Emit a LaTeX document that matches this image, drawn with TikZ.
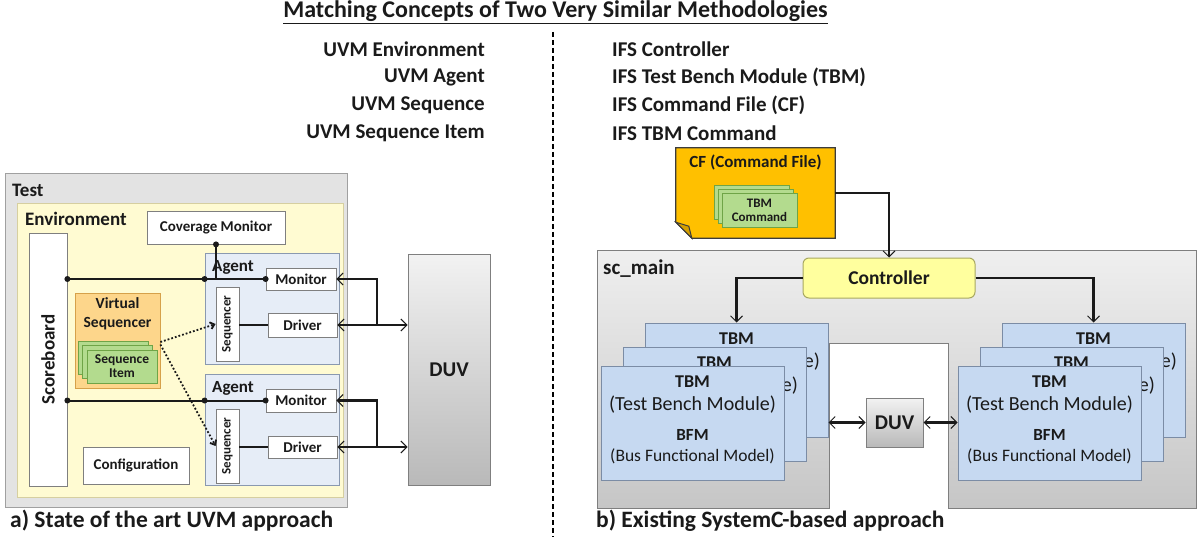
\documentclass[tikz,border=0pt]{standalone}
\usepackage{fontspec}
\setmainfont{Carlito}
\usetikzlibrary{arrows.meta,positioning,calc}
\definecolor{ink}{HTML}{1A1A1A}
\definecolor{testfill}{HTML}{E3E3E3}
\definecolor{testline}{HTML}{A0A0A0}
\definecolor{envfill}{HTML}{FFFBD2}
\definecolor{envline}{HTML}{D6CFA0}
\definecolor{agentfill}{HTML}{E6EDF7}
\definecolor{agentline}{HTML}{8A99B0}
\definecolor{vseqfill}{HTML}{FDD68B}
\definecolor{vseqline}{HTML}{D6A14A}
\definecolor{itemfill}{HTML}{B3DB8E}
\definecolor{itemline}{HTML}{6FA447}
\definecolor{cffill}{HTML}{FFC000}
\definecolor{cffold}{HTML}{D49F00}
\definecolor{ctrlfill}{HTML}{FFFF9E}
\definecolor{ctrlline}{HTML}{A8A860}
\definecolor{tbmfill}{HTML}{C6D9F1}
\definecolor{tbmline}{HTML}{7B8CA5}
\definecolor{duvtop}{HTML}{F2F2F2}
\definecolor{duvbot}{HTML}{B9B9B9}
\definecolor{scmtop}{HTML}{EFEFEF}
\definecolor{scmbot}{HTML}{C6C6C6}
\definecolor{boxline}{HTML}{7F7F7F}
\tikzset{
  >={Straight Barb[length=6pt,width=12pt,line width=1pt]},
  every node/.style={font=\bfseries,text=ink,inner sep=0pt},
  frame/.style={draw=testline,fill=testfill,line width=1pt},
  envbox/.style={draw=envline,fill=envfill,line width=0.8pt},
  wbox/.style={draw=boxline,fill=white,line width=0.8pt,align=center,font=\bfseries\fontsize{15}{17}\selectfont},
  agentbox/.style={draw=agentline,fill=agentfill,line width=0.8pt},
  vseqbox/.style={draw=vseqline,fill=vseqfill,line width=0.8pt,minimum width=85pt,minimum height=95pt},
  itembox/.style={draw=itemline,fill=itemfill,line width=0.8pt,align=center,minimum width=70pt,minimum height=33pt,font=\bfseries\fontsize{13.5}{14}\selectfont},
  cmdbox/.style={itembox,minimum width=75pt,minimum height=34pt,font=\bfseries\fontsize{13}{14}\selectfont},
  ctrlbox/.style={draw=ctrlline,fill=ctrlfill,line width=1pt,rounded corners=6pt,minimum width=172pt,minimum height=40pt,font=\bfseries\fontsize{19.5}{22}\selectfont},
  tbmbox/.style={draw=tbmline,fill=tbmfill,line width=1pt,minimum width=183pt,minimum height=114pt},
  tbmhead/.style={font=\bfseries\fontsize{18}{20}\selectfont},
  tbmsub/.style={font=\mdseries\fontsize{20}{22}\selectfont},
  duvbox/.style={draw=boxline,line width=1pt,top color=duvtop,bottom color=duvbot,font=\bfseries\fontsize{21}{24}\selectfont},
  wire/.style={line width=2pt,draw=ink},
  thinwire/.style={line width=1.4pt,draw=ink},
  arrow/.style={->,line width=2.4pt,draw=ink},
  dual/.style={<->,line width=2.4pt,draw=ink},
  hint/.style={->,dotted,line width=1.8pt,draw=ink,>={Straight Barb[length=4pt,width=7pt]}},
  dot/.style={circle,fill=ink,minimum size=6pt,inner sep=0pt},
  heading/.style={font=\bfseries\fontsize{21}{25}\selectfont},
  tag/.style={anchor=west,font=\bfseries\fontsize{19}{22}\selectfont},
  caption/.style={anchor=west,font=\bfseries\fontsize{23.5}{26}\selectfont},
  divider/.style={dashed,line width=1.8pt,dash pattern=on 5pt off 3pt},
}

\begin{document}
\begin{tikzpicture}[x=1pt,y=-1pt]
\useasboundingbox (0,0) rectangle (1198,537);

% heading and matching concepts
\node[heading,font=\bfseries\fontsize{24}{28}\selectfont] (title) at (555.5,12) {\underline{Matching Concepts of Two Very Similar Methodologies}};
\coordinate (divtop) at (553,32);
\coordinate (divbot) at (553,537);
\draw[divider] (divtop) -- (divbot);
\node[heading,anchor=east] (uvm1) at (485,49) {UVM Environment};
\node[heading,anchor=east] (uvm2) at (485,77) {UVM Agent};
\node[heading,anchor=east] (uvm3) at (485,105) {UVM Sequence};
\node[heading,anchor=east] (uvm4) at (485,133) {UVM Sequence Item};
\node[heading,anchor=west] (ifs1) at (612,49) {IFS Controller};
\node[heading,anchor=west] (ifs2) at (612,77) {IFS Test Bench Module (TBM)};
\node[heading,anchor=west] (ifs3) at (612,105) {IFS Command File (CF)};
\node[heading,anchor=west] (ifs4) at (612,133) {IFS TBM Command};

% a) UVM
\node[frame,minimum width=342pt,minimum height=333pt] (test) at (176,340.5) {};
\node[tag] at (12,190) {Test};
\node[envbox,minimum width=326pt,minimum height=294pt] (env) at (180,350) {};
\node[tag] at (25,219) {Environment};
\node[wbox,minimum width=138pt,minimum height=33pt] (cov) at (216,227.5) {Coverage Monitor};
\node[wbox,minimum width=38pt,minimum height=253pt] (score) at (48,359.5) {};
\node[rotate=90,font=\bfseries\fontsize{19}{22}\selectfont] at (score) {Scoreboard};

\node[agentbox,minimum width=134pt,minimum height=111pt] (agent1) at (272,308.5) {};
\node[tag,font=\bfseries\fontsize{17}{20}\selectfont] at (212,267) {Agent};
\node[wbox,minimum width=70pt,minimum height=22pt] (mon1) at (301,279) {Monitor};
\node[wbox,minimum width=69pt,minimum height=24pt] (drv1) at (302.5,325) {Driver};
\node[wbox,minimum width=23pt,minimum height=74pt] (seq1) at (227.5,324) {};
\node[rotate=90,font=\bfseries\fontsize{13}{15}\selectfont] at (seq1) {Sequencer};

\node[agentbox,minimum width=134pt,minimum height=111pt] (agent2) at (272,429.5) {};
\node[tag,font=\bfseries\fontsize{17}{20}\selectfont] at (212,388) {Agent};
\node[wbox,minimum width=70pt,minimum height=23pt] (mon2) at (301,400.5) {Monitor};
\node[wbox,minimum width=69pt,minimum height=22pt] (drv2) at (302.5,447) {Driver};
\node[wbox,minimum width=23pt,minimum height=74pt] (seq2) at (227.5,446) {};
\node[rotate=90,font=\bfseries\fontsize{13}{15}\selectfont] at (seq2) {Sequencer};

\node[vseqbox] (vseq) at (117.5,340.5) {};
\node[align=center,font=\bfseries\fontsize{15.5}{19}\selectfont] at (117.5,314) {Virtual\\Sequencer};
\node[itembox] (item3) at (113,357.5) {};
\node[itembox] (item2) at (117.5,362) {};
\node[itembox] (item1) at (122,366.5) {Sequence\\Item};
\node[wbox,minimum width=106pt,minimum height=37pt] (conf) at (136,465.5) {Configuration};

\node[duvbox,minimum width=82pt,minimum height=231pt] (duvL) at (449,369.5) {DUV};

\draw[wire] (cov.south) -- (cov.south |- mon1.west);
\draw[wire] (score.east |- mon1.west) -- (mon1.west);
\draw[wire] (score.east |- mon2.west) -- (mon2.west);
\foreach \n in {1,2} {
  \node[dot] at (score.east |- mon\n.west) {};
  \node[dot] at (agent\n.west |- mon\n.west) {};
  \node[dot] at (mon\n.west) {};
  \draw[thinwire] (seq\n.east |- drv\n.west) -- (drv\n.west);
}
\node[dot] at (cov.south) {};

\coordinate (jn1) at (377,325);
\coordinate (jn2) at (377,447);
\draw[arrow] (jn1) |- (mon1.east);
\draw[dual] (drv1.east) -- (duvL.west |- drv1.east);
\draw[arrow] (jn2) |- (mon2.east);
\draw[dual] (drv2.east) -- (duvL.west |- drv2.east);

\draw[hint] ([yshift=-1.5pt]vseq.east) -- (seq1.west);
\draw[hint] ([yshift=-4pt]vseq.east) -- (seq2.west);

\node[caption] (capA) at (10,521) {a) State of the art UVM approach};

% b) SystemC
\node[minimum width=159pt,minimum height=90pt] (cf) at (755.5,193) {};
\draw[fill=cffill,draw=ink!85,line width=1.2pt] (cf.north west) -- (cf.north east) -- (cf.south east)
  -- ([xshift=16pt]cf.south west) -- ([yshift=16pt]cf.south west) -- cycle;
\draw[fill=cffold,draw=ink!85,line width=1pt] ([yshift=16pt]cf.south west) -- ([xshift=16pt]cf.south west)
  -- ([xshift=13pt,yshift=12pt]cf.south west) -- cycle;
\node[font=\bfseries\fontsize{17}{20}\selectfont] at (755.5,162) {CF (Command File)};
\node[cmdbox] (cmd3) at (751.5,202) {};
\node[cmdbox] (cmd2) at (755.5,206) {};
\node[cmdbox] (cmd1) at (759.5,210) {TBM\\Command};

\shade[top color=scmtop,bottom color=scmbot,draw=boxline,line width=1pt]
  (597,250) -- (1196,250) -- (1196,508) -- (948,508) -- (948,343) -- (829,343) -- (829,508) -- (597,508) -- cycle;
\node[tag,font=\bfseries\fontsize{21}{24}\selectfont] (scmain) at (603,269) {sc\_main};
\node[ctrlbox] (ctrl) at (889,278) {Controller};

\foreach \b/\x/\y in {tbmL3/736.5/380,tbmL2/714.5/404,tbmL1/692.5/423,tbmR3/1093.5/380,tbmR2/1071.5/404,tbmR1/1049.5/423} {
  \node[tbmbox] (\b) at (\x,\y) {};
  \node[tbmhead] at ([yshift=-16pt]\b.north) {TBM};
  \node[tbmsub] at ([yshift=-39pt]\b.north) {(Test Bench Module)};
}
\foreach \b in {tbmL1,tbmR1} {
  \node[tbmhead,font=\bfseries\fontsize{17}{20}\selectfont] at ([yshift=-69pt]\b.north) {BFM};
  \node[tbmsub,font=\mdseries\fontsize{17.5}{20}\selectfont] at ([yshift=-91pt]\b.north) {(Bus Functional Model)};
}
\node[duvbox,minimum width=57pt,minimum height=49pt] (duvR) at (894.5,422.5) {DUV};

\draw[arrow] (cf.east) -| (ctrl.north);
\draw[arrow] (ctrl.west) -| (tbmL3.north);
\draw[arrow] (ctrl.east) -| (tbmR3.north);
\draw[dual] (tbmL3.east |- duvR.west) -- (duvR.west);
\draw[dual] (duvR.east) -- (tbmR1.west |- duvR.east);

\node[caption] (capB) at (596,521) {b) Existing SystemC-based approach};
\end{tikzpicture}
\end{document}
